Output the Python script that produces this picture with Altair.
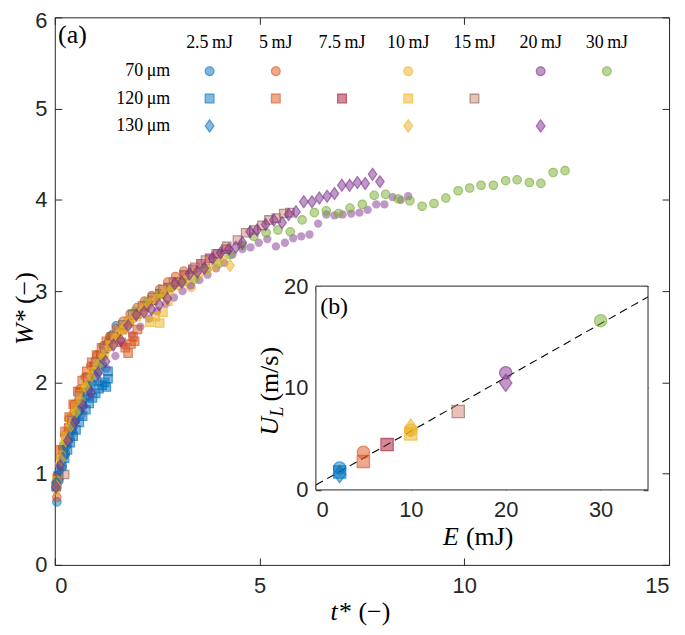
import altair as alt
import pandas as pd

# ---------------- data ----------------
# 70 um circles
C25_T = [0.05,0.1,0.18,0.26,0.34,0.42,0.5,0.59,0.68,0.77,0.86,0.95,1.04,1.13,1.22,1.31,1.4,1.5]
C25_W = [0.69,0.92,1.08,1.22,1.36,1.48,1.58,1.7,1.8,1.9,2.0,2.1,2.2,2.28,2.36,2.44,2.52,2.62]
C5_T = [0.05,0.14,0.24,0.35,0.47,0.6,0.74,0.88,1.03,1.18,1.34,1.5,1.67,1.84,2.01,2.19,2.37,2.56,2.76,2.95,3.15]
C5_W = [0.74,1.18,1.42,1.6,1.76,1.92,2.06,2.18,2.3,2.4,2.5,2.59,2.67,2.75,2.82,2.89,2.95,3.02,3.1,3.16,3.22]
C10_T = [0.04,0.12,0.22,0.33,0.45,0.58,0.72,0.86,1.0,1.15,1.3,1.46,1.62,1.79,1.96,2.14,2.32,2.51,2.7,2.9,3.1,3.33]
C10_W = [0.82,1.1,1.33,1.5,1.66,1.8,1.94,2.07,2.19,2.3,2.4,2.5,2.58,2.67,2.74,2.82,2.88,2.95,3.0,3.06,3.11,3.04]
C20_T = [0.05,0.25,0.45,0.66,0.86,1.07,1.27,1.48,1.68,1.89,2.09,2.3,2.5,2.71,2.91,3.12,3.32,3.53,3.73,3.94,4.14,4.34,4.58,4.78,4.98,5.19,5.40,5.62,5.82,6.02,6.22,6.43,6.63,6.83,7.03,7.24,7.44,7.64,7.85,8.05,8.25,8.45,8.63]
C20_W = [0.85,1.2,1.45,1.65,1.84,2.0,2.15,2.29,2.41,2.52,2.61,2.7,2.78,2.86,2.93,3.0,3.06,3.12,3.18,3.25,3.31,3.40,3.46,3.48,3.53,3.57,3.49,3.53,3.58,3.60,3.62,3.74,3.84,3.83,3.84,3.85,3.86,3.89,3.95,3.95,4.03,4.0,4.04]
C30_T = [0.22,0.51,0.8,1.09,1.38,1.67,1.96,2.25,2.54,2.83,3.12,3.41,3.7,3.99,4.28,4.57,4.86,5.16,5.45,5.75,6.04,6.34,6.63,6.93,7.21,7.51,7.8,8.08,8.39,8.67,8.97,9.26,9.55,9.85,10.13,10.41,10.71,11.01,11.29,11.59,11.87,12.17,12.46]
C30_W = [1.3,1.65,1.95,2.2,2.5,2.62,2.78,2.88,2.96,3.04,3.1,3.13,3.24,3.3,3.4,3.5,3.6,3.64,3.67,3.65,3.78,3.86,3.88,3.85,3.91,3.95,4.05,4.06,4.01,3.99,3.93,3.96,4.02,4.1,4.13,4.16,4.16,4.21,4.22,4.19,4.18,4.3,4.32]
# 120 um squares
S25_T = [0.03,0.1,0.17,0.24,0.31,0.38,0.45,0.52,0.6,0.68,0.76,0.84,0.92,1.0,1.08,1.16,1.22,1.26,1.3,1.3]
S25_W = [0.86,0.98,1.08,1.17,1.26,1.34,1.41,1.48,1.56,1.63,1.7,1.77,1.83,1.88,1.93,1.97,2.0,1.95,2.04,2.12]
S5_T = [0.06,0.15,0.25,0.35,0.45,0.56,0.67,0.78,0.9,1.02,1.14,1.26,1.38,1.5,1.62,1.72,1.79,1.86,1.91,1.95,2.02]
S5_W = [0.95,1.26,1.46,1.62,1.76,1.9,2.02,2.12,2.22,2.3,2.38,2.45,2.5,2.48,2.44,2.38,2.32,2.42,2.5,2.45,2.58]
S75_T = [0.08,0.2,0.34,0.49,0.64,0.8,0.96,1.12,1.29,1.46,1.64,1.82,2.0,2.19,2.38,2.57,2.77,2.97,3.17,3.37,3.57,3.78,3.98,4.18]
S75_W = [0.97,1.26,1.5,1.71,1.89,2.04,2.17,2.29,2.4,2.49,2.58,2.67,2.75,2.83,2.9,2.97,3.04,3.1,3.17,3.24,3.3,3.36,3.41,3.46]
S10_T = [0.06,0.16,0.27,0.39,0.51,0.64,0.78,0.92,1.06,1.2,1.35,1.5,1.66,1.82,1.98,2.14,2.32,2.45,2.56,2.64,2.76]
S10_W = [0.92,1.2,1.41,1.57,1.71,1.86,1.99,2.11,2.21,2.31,2.41,2.5,2.58,2.65,2.72,2.76,2.66,2.72,2.65,2.77,2.89]
S15_T = [0.05,0.24,0.42,0.6,0.8,1.0,1.21,1.43,1.66,1.9,2.14,2.39,2.64,2.9,3.16,3.42,3.68,3.94,4.2,4.46,4.66,4.86,5.06,5.23,5.41,5.59,5.74]
S15_W = [0.88,0.99,1.58,1.85,2.05,2.22,2.37,2.5,2.63,2.74,2.84,2.93,3.02,3.1,3.18,3.26,3.34,3.41,3.49,3.56,3.64,3.67,3.72,3.78,3.8,3.85,3.86]
# 130 um diamonds
D25_T = [0.04,0.12,0.2,0.28,0.36,0.44,0.52,0.6,0.68,0.76,0.84,0.92,1.0,1.08,1.16]
D25_W = [0.9,1.04,1.17,1.29,1.4,1.5,1.59,1.68,1.76,1.84,1.92,1.99,2.06,2.13,2.2]
D10_T = [0.05,0.15,0.27,0.39,0.51,0.63,0.76,0.9,1.04,1.18,1.33,1.48,1.64,1.8,1.96,2.13,2.3,2.48,2.66,2.84,3.02,3.2,3.38,3.56,3.74,3.92,4.1,4.28]
D10_W = [0.86,1.15,1.36,1.52,1.67,1.8,1.95,2.07,2.18,2.28,2.39,2.48,2.57,2.65,2.72,2.79,2.85,2.91,2.96,3.02,3.07,3.12,3.17,3.2,3.24,3.28,3.35,3.28]
D20_T = [0.03,0.13,0.32,0.49,0.7,0.88,1.06,1.24,1.43,1.61,1.79,1.99,2.18,2.36,2.55,2.75,2.93,3.1,3.29,3.48,3.65,3.85,4.05,4.25,4.42,4.58,4.77,4.94,5.15,5.35,5.55,5.71,5.89,6.08,6.28,6.46,6.65,6.83,7.01,7.2,7.39,7.58,7.76,7.94]
D20_W = [0.85,1.09,1.36,1.56,1.74,1.89,2.1,2.23,2.41,2.46,2.62,2.74,2.77,2.8,2.85,2.92,3.08,3.1,3.19,3.21,3.25,3.36,3.42,3.46,3.48,3.53,3.65,3.67,3.73,3.78,3.75,3.84,3.87,3.98,3.98,4.02,4.04,4.07,4.16,4.16,4.19,4.18,4.28,4.2]

# inset (b): U_L versus E
IN_C_E = [2.5, 5, 10, 20, 30]
IN_C_U = [2.15, 3.7, 5.85, 11.5, 16.6]
IN_S_E = [2.5, 5, 7.5, 10, 15]
IN_S_U = [1.75, 2.8, 4.45, 5.5, 7.7]
IN_D_E = [2.5, 10, 20]
IN_D_U = [1.55, 6.1, 10.5]

ENERGIES = ["2.5", "5", "7.5", "10", "15", "20", "30"]
ENERGY_LABELS = ["2.5\u2009mJ", "5\u2009mJ", "7.5\u2009mJ", "10\u2009mJ", "15\u2009mJ", "20\u2009mJ", "30\u2009mJ"]
DIAM_LABELS = ["70\u2009μm", "120\u2009μm", "130\u2009μm"]

SERIES = [
    ("c", "2.5", C25_T, C25_W), ("c", "5", C5_T, C5_W), ("c", "10", C10_T, C10_W),
    ("c", "20", C20_T, C20_W), ("c", "30", C30_T, C30_W),
    ("s", "2.5", S25_T, S25_W), ("s", "5", S5_T, S5_W), ("s", "7.5", S75_T, S75_W),
    ("s", "10", S10_T, S10_W), ("s", "15", S15_T, S15_W),
    ("d", "2.5", D25_T, D25_W), ("d", "10", D10_T, D10_W), ("d", "20", D20_T, D20_W),
]
# drawing order in panel (a) (first = bottom)
DRAW_ORDER = ["s7.5", "c2.5", "c5", "c10", "c20", "c30", "s2.5", "s5", "s10", "s15",
              "d2.5", "d10", "d20"]

# ---------------- styles ----------------
DIAMOND = "M0,-1.4L1,0L0,1.4L-1,0Z"
KEYS = [g + e for g, e, _, _ in SERIES]
SHAPES = ["circle"] * 5 + ["square"] * 5 + [DIAMOND] * 3
STROKES_MAIN = ["#0072BD", "#D95319", "#EDB120", "transparent", "#77AC30",
                "#0072BD", "#D95319", "#A2142F", "#EDB120", "#8A6A5C",
                "#0072BD", "#EDB120", "#7E2F8E"]
STROKES_KEY = ["#0072BD", "#D95319", "#EDB120", "#7E2F8E", "#77AC30",
               "#0072BD", "#D95319", "#A2142F", "#EDB120", "#8A6A5C",
               "#0072BD", "#EDB120", "#7E2F8E"]
FILLS = ["#0072BD", "#D95319", "#EDB120", "#7E2F8E", "#77AC30",
         "#0072BD", "#D95319", "#A2142F", "#EDB120", "#D9826A",
         "#0072BD", "#EDB120", "#7E2F8E"]
FOPS = [0.7, 0.7, 0.65, 0.55, 0.6, 0.72, 0.72, 0.7, 0.65, 0.75, 0.72, 0.7, 0.85]

rows = []
for g, e, ts, ws in SERIES:
    assert len(ts) == len(ws), (g, e)
    for t, w in zip(ts, ws):
        rows.append({"series": g + e, "t": t, "W": w})
main_df = pd.DataFrame(rows)
main_df["order"] = main_df["series"].map({k: i for i, k in enumerate(DRAW_ORDER)})
main_df = main_df.sort_values("order", kind="stable").drop(columns="order")

inset_rows = []
for g, es, us in (("c", IN_C_E, IN_C_U), ("s", IN_S_E, IN_S_U), ("d", IN_D_E, IN_D_U)):
    for e, u in zip(es, us):
        inset_rows.append({"series": g + ("%g" % e), "E": e, "U": u})
inset_df = pd.DataFrame(inset_rows)

# legend grid (layout in panel-(a) data units)
COL0, DCOL = 3.78, 1.617
ROW_W = [5.41, 5.11, 4.81]
HEAD_W = 5.72
ROWLAB_T = 2.82
key_rows = []
for g, e, _, _ in SERIES:
    key_rows.append({"series": g + e, "t": COL0 + DCOL * ENERGIES.index(e),
                     "W": ROW_W["csd".index(g)]})
key_df = pd.DataFrame(key_rows)
head_df = pd.DataFrame({"label": ENERGY_LABELS,
                        "t": [COL0 + DCOL * i for i in range(len(ENERGIES))],
                        "W": [HEAD_W] * len(ENERGIES)})
rowlab_df = pd.DataFrame({"label": DIAM_LABELS, "t": [ROWLAB_T] * 3, "W": ROW_W})

# ---------------- geometry ----------------
PW, PH = 617, 550
TK = 7        # main tick length (inward)
TI = 5        # inset tick length
IN_X = [262.3, 595.9]
IN_Y = [474.7, 270.0]
SERIF = "Liberation Serif"
SANS = "Liberation Sans"
DARK = "#262626"

xs_main = alt.Scale(domain=[0, 15], nice=False, zero=False)
ys_main = alt.Scale(domain=[0, 6], nice=False, zero=False)
xs_in = alt.Scale(domain=[0, 35], range=IN_X, nice=False, zero=False)
ys_in = alt.Scale(domain=[0, 20], range=IN_Y, nice=False, zero=False)

one = pd.DataFrame({"a": [0]})


def style(strokes):
    return dict(
        stroke=alt.Stroke("series:N", scale=alt.Scale(domain=KEYS, range=strokes), legend=None),
        fill=alt.Fill("series:N", scale=alt.Scale(domain=KEYS, range=FILLS), legend=None),
        fillOpacity=alt.FillOpacity("series:N", scale=alt.Scale(domain=KEYS, range=FOPS), legend=None),
        shape=alt.Shape("series:N", scale=alt.Scale(domain=KEYS, range=SHAPES), legend=None),
    )


def ax(orient, offset, size, values, labels=True, pad=6, **kw):
    return alt.Axis(orient=orient, offset=offset, tickSize=size, values=values,
                    labels=labels, domain=False, grid=False, title=None,
                    labelPadding=pad, **kw)


# main scatter
main = alt.Chart(main_df).mark_point(filled=True, size=70, strokeWidth=1.3).encode(
    x=alt.X("t:Q", scale=xs_main, axis=ax("bottom", -TK, TK, [0, 5, 10, 15], pad=11)),
    y=alt.Y("W:Q", scale=ys_main,
            axis=ax("left", -TK, TK, [0, 1, 2, 3, 4, 5, 6], pad=8,
                    labelOffset={"condition": {"test": "datum.value == 6", "value": 3}, "value": 0})),
    **style(STROKES_MAIN),
)

# legend markers (+ top/right tick axes of the main plot)
key = alt.Chart(key_df).mark_point(filled=True, size=75, strokeWidth=1.3).encode(
    x=alt.X("t:Q", scale=xs_main, axis=ax("top", -TK, TK, [0, 5, 10, 15], labels=False)),
    y=alt.Y("W:Q", scale=ys_main, axis=ax("right", -TK, TK, [0, 1, 2, 3, 4, 5, 6], labels=False)),
    **style(STROKES_KEY),
)

heads = alt.Chart(head_df).mark_text(font=SERIF, fontSize=18, color="black", align="center",
                                     baseline="middle").encode(
    x=alt.X("t:Q", scale=xs_main, axis=None), y=alt.Y("W:Q", scale=ys_main, axis=None),
    text="label:N")
rowlabs = alt.Chart(rowlab_df).mark_text(font=SERIF, fontSize=18, color="black", align="right",
                                         baseline="middle").encode(
    x=alt.X("t:Q", scale=xs_main, axis=None), y=alt.Y("W:Q", scale=ys_main, axis=None),
    text="label:N")
tag_a = alt.Chart(one).mark_text(text="(a)", font=SERIF, fontSize=26, color="black",
                                 align="left", baseline="middle").encode(
    x=alt.XDatum(0.08, scale=xs_main, axis=None), y=alt.YDatum(5.81, scale=ys_main, axis=None))

# inset frame (+ top/right inward ticks)
frame = alt.Chart(one).mark_rect(fill="white", stroke=DARK, strokeWidth=1).encode(
    x=alt.XDatum(0, scale=xs_in, axis=ax("top", -(IN_Y[1] + TI), TI, [0, 10, 20, 30], labels=False)),
    x2=alt.X2Datum(35),
    y=alt.YDatum(0, scale=ys_in, axis=ax("right", -(PW - IN_X[1] + TI), TI, [0, 10, 20], labels=False)),
    y2=alt.Y2Datum(20),
)

inset_pts = alt.Chart(inset_df).mark_point(filled=True, size=150, strokeWidth=1.3).encode(
    x=alt.X("E:Q", scale=xs_in, axis=ax("bottom", -(PH - IN_Y[0] + TI), TI, [0, 10, 20, 30], pad=10)),
    y=alt.Y("U:Q", scale=ys_in, axis=ax("left", -(IN_X[0] + TI), TI, [0, 10, 20], pad=8)),
    **style(STROKES_KEY),
)

fit = alt.Chart(inset_df).transform_regression("E", "U", extent=[0, 35]).mark_line(
    color="black", strokeDash=[8, 5], strokeWidth=1.1).encode(
    x=alt.X("E:Q", scale=xs_in, axis=None), y=alt.Y("U:Q", scale=ys_in, axis=None))

tag_b = alt.Chart(one).mark_text(text="(b)", font=SERIF, fontSize=24, color="black",
                                 align="left", baseline="middle").encode(
    x=alt.XDatum(0.45, scale=xs_in, axis=None), y=alt.YDatum(17.96, scale=ys_in, axis=None))


def txt(s, x, y, size=26, italic=False, angle=0, align="left"):
    kw = dict(text=s, font=SERIF, fontSize=size, color="black", align=align,
              baseline="alphabetic", angle=angle)
    if italic:
        kw["fontStyle"] = "italic"
    return alt.Chart(one).mark_text(**kw).encode(x=alt.value(x), y=alt.value(y))


titles = [
    txt("t*", 277, 605, italic=True), txt("(\u2212)", 305, 605),
    txt("W*", -22, 329, italic=True, angle=270), txt("(\u2212)", -22, 288, angle=270),
    txt("E", 390, 530, italic=True), txt("(mJ)", 413, 530),
    txt("U", 224, 420, italic=True, angle=270), txt("L", 229, 401, size=18, italic=True, angle=270),
    txt("(m/s)", 224, 386, angle=270),
]

chart = alt.layer(
    main, key, heads, rowlabs, tag_a, frame, fit, inset_pts, tag_b, *titles
).resolve_scale(
    x="independent", y="independent", stroke="independent", fill="independent",
    fillOpacity="independent", shape="independent",
).resolve_axis(
    x="independent", y="independent"
).properties(
    width=PW, height=PH,
    autosize=alt.AutoSizeParams(type="none"),
    padding={"left": 47, "top": 8, "right": 8, "bottom": 60},
).configure_view(
    stroke=DARK, strokeWidth=1
).configure_axis(
    labelFont=SANS, labelFontSize=22, labelColor=DARK, tickColor=DARK, tickWidth=1,
)

chart.save("out.html", embed_options={"renderer": "svg", "actions": False})
